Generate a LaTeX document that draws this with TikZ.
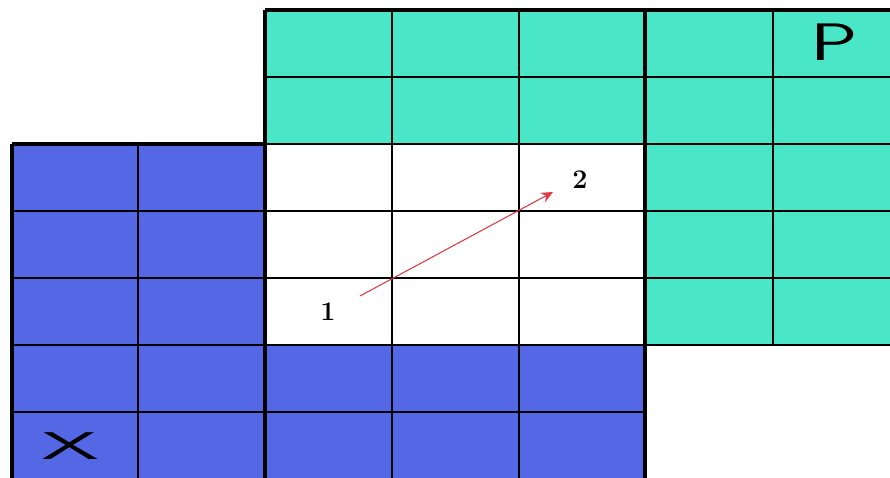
\documentclass[tikz,border=0pt]{standalone}
\usetikzlibrary{arrows.meta}
\definecolor{gridgreen}{RGB}{74,230,200}
\definecolor{gridblue}{RGB}{84,104,230}
\definecolor{arrowred}{RGB}{225,55,65}
\tikzset{
  gridline/.style={line width=2.2pt, black},
  edgeline/.style={line width=2.6pt, black},
  numlabel/.style={font=\fontsize{23}{24}\selectfont\bfseries, inner sep=0pt},
  letter/.style={font=\fontsize{45}{46}\selectfont\sffamily, inner sep=0pt},
  arr/.style={arrowred, line width=0.9pt, -{Stealth[length=10pt,width=9pt]}}
}
\begin{document}
\begin{tikzpicture}[x=0.03cm, y=-0.03cm]
\useasboundingbox (0,0) rectangle (890,478);
% fills
\fill[gridgreen] (265,10) rectangle (890,144);
\fill[gridgreen] (645,144) rectangle (890,345);
\fill[gridblue] (12,144) rectangle (265,345);
\fill[gridblue] (12,345) rectangle (645,478);
% horizontal lines
\draw[gridline] (265,77) -- (890,77);
\draw[gridline] (265,144) -- (890,144);
\draw[gridline] (12,211) -- (890,211);
\draw[gridline] (12,278) -- (890,278);
\draw[gridline] (12,345) -- (890,345);
\draw[gridline] (12,412) -- (645,412);
\draw[edgeline] (265,10) -- (890,10);
\draw[edgeline] (12,144) -- (265,144);
% vertical lines
\draw[edgeline] (12,144) -- (12,478);
\draw[gridline] (138,144) -- (138,478);
\draw[edgeline] (265,10) -- (265,478);
\draw[gridline] (392,10) -- (392,478);
\draw[gridline] (519,10) -- (519,478);
\draw[edgeline] (645,10) -- (645,478);
\draw[gridline] (773,10) -- (773,345);
% labels
\node[letter, xscale=1.5] (p) at (834,42) {P};
\node[font=\fontsize{33}{34}\selectfont\sffamily, inner sep=0pt, xscale=2.4] (x) at (70,446) {X};
\node[numlabel] (n1) at (328,312) {1};
\node[numlabel] (n2) at (580,180) {2};
\coordinate (a1) at (360,296);
\coordinate (a2) at (553,192);
\draw[arr] (a1) -- (a2);
\end{tikzpicture}
\end{document}
